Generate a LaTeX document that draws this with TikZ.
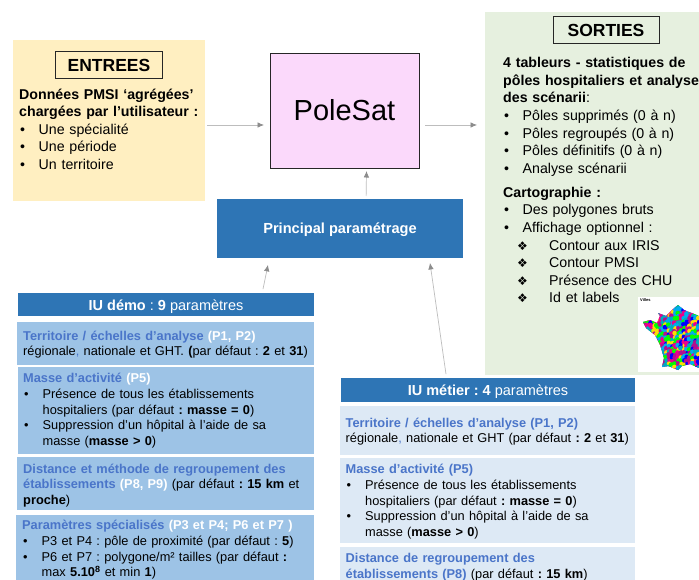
\documentclass[tikz,border=0pt]{standalone}
\usepackage{fontspec}
\setmainfont{Liberation Sans}
\newfontfamily\symfont{DejaVu Sans}
\usetikzlibrary{calc,arrows.meta}
\frenchspacing
\definecolor{inbg}{HTML}{FFEFC1}
\definecolor{outbg}{HTML}{E6F0DF}
\definecolor{polebg}{HTML}{FBD9FB}
\definecolor{headblue}{HTML}{2E75B5}
\definecolor{demobg}{HTML}{9DC3E6}
\definecolor{metbg}{HTML}{DDE9F5}
\definecolor{titleblue}{HTML}{4A75C9}
\definecolor{arrowgrey}{HTML}{BDBDBD}
\definecolor{tipgrey}{HTML}{8C8C8C}
\newcommand{\hd}[1]{{\bfseries\color{titleblue}#1}}
\newcommand{\wh}[1]{{\bfseries\color{white}#1}}
\newcommand{\lowered}[1]{\raisebox{-2pt}[10pt][3pt]{#1}}
\newlength{\bulw}
\setlength{\bulw}{19.5pt}
\newcommand{\bul}{\par\hangindent=\bulw\hangafter=1\noindent\makebox[\bulw][l]{\hspace{1pt}•}}
\newcommand{\dia}{\par\hangindent=46pt\hangafter=1\noindent\makebox[46pt][l]{\hspace{14pt}{\symfont\fontsize{12}{12}\selectfont ❖}}}
\tikzset{
  x=1pt,y=-1pt,
  panel/.style={anchor=north west,inner sep=0pt,outer sep=0pt},
  arr/.style={draw=arrowgrey,line width=0.7pt,-{Latex[length=6.5pt,width=5.5pt,color=tipgrey]}},
  tit/.style={draw=black!85,line width=1pt,font=\bfseries\fontsize{17.5}{18}\selectfont,inner sep=0pt,anchor=center},
  head/.style={fill=headblue,text=white,inner sep=0pt,outer sep=0pt,anchor=north west,font=\fontsize{14.5}{16}\selectfont,align=center},
  card/.style={anchor=north west,inner sep=0pt,align=left,font=\fontsize{12.8}{15.8}\selectfont},
  body/.style={anchor=north west,inner sep=0pt,align=left,font=\fontsize{14.2}{17.6}\selectfont},
}
\begin{document}
\begin{tikzpicture}
\useasboundingbox (0,0) rectangle (699,580);
\fill[white] (0,0) rectangle (699,580);

% ENTREES
\node[panel,fill=inbg,minimum width=192pt,minimum height=161pt] (entrees) at (13,40) {};
\node[tit,minimum width=107pt,minimum height=27pt] (entit) at (109,65.5) {\raisebox{-0.5pt}{ENTREES}};
\node[body,text width=185pt] (entxt) at (19,88.5) {\bfseries Données PMSI ‘agrégées’\newline chargées par l’utilisateur :\mdseries\bul Une spécialité\bul Une période\bul Un territoire\par};

% PoleSat
\node[panel,fill=polebg,draw=black!85,line width=0.8pt,minimum width=149pt,minimum height=115pt,font=\fontsize{29}{32}\selectfont] (pole) at (270,53) {PoleSat};

% Principal
\node[panel,fill=headblue,text=white,minimum width=246pt,minimum height=59pt,font=\bfseries\fontsize{14.6}{16}\selectfont] (princ) at (217,199) {\lowered{Principal paramétrage}};

% SORTIES
\node[panel,fill=outbg,minimum width=214pt,minimum height=363pt] (sorties) at (485,12) {};
\node[tit,minimum width=106pt,minimum height=27pt] (sotit) at (606,30.5) {SORTIES};
\node[body,text width=196pt] (sotxt) at (503,57.2) {\bfseries 4 tableurs - statistiques de\newline pôles hospitaliers et analyse\newline des scénarii\mdseries:\bul Pôles supprimés (0 à n)\bul Pôles regroupés (0 à n)\bul Pôles définitifs (0 à n)\bul Analyse scénarii\par\vspace{6.5pt}\noindent\bfseries Cartographie :\mdseries\bul Des polygones bruts\bul Affichage optionnel :\dia Contour aux IRIS\dia Contour PMSI\dia Présence des CHU\dia Id et labels\par};

% carte
\node[panel,fill=white,minimum width=61pt,minimum height=75pt] (carte) at (638,297) {};
\node[anchor=north west,inner sep=0pt,font=\bfseries\fontsize{4}{4}\selectfont] (cartit) at (640,298) {Villes};
\begin{scope}
\clip (643,322) -- (650,320) -- (657,323) -- (660,316) -- (658,313) -- (666,316) -- (672,310) -- (678,305) -- (684,310) -- (699,316) -- (699,368) -- (690,364) -- (682,366) -- (678,370) -- (668,366) -- (662,367) -- (664,358) -- (660,345) -- (655,335) -- (646,328) -- cycle;
\pgfmathsetseed{23}
\fill[magenta] (640,300) rectangle (699,372);
\foreach \cx in {0,...,19}{
  \foreach \cy in {0,...,23}{
    \pgfmathtruncatemacro{\pick}{random(1,7)}
    \ifcase\pick\or\def\cc{magenta}\or\def\cc{cyan}\or\def\cc{blue}\or\def\cc{yellow!80!orange}\or\def\cc{green}\or\def\cc{magenta!70!blue}\or\def\cc{cyan!70!green}\fi
    \pgfmathsetmacro{\jx}{rnd*2}
    \pgfmathsetmacro{\jy}{rnd*2}
    \fill[\cc] (641+\cx*3+\jx,303+\cy*3+\jy) circle[radius=2.4pt];
  }
}
\end{scope}

% IU demo
\node[head,minimum width=296pt,minimum height=23pt] (demohead) at (18,293) {\lowered{\textbf{IU démo} : \textbf{9} paramètres}};
\node[panel,fill=demobg,minimum width=297pt,minimum height=43pt] (d1) at (17,322) {};
\node[card,text width=292pt] (d1t) at (23,330.5) {\hd{Territoire / échelles d’analyse} \wh{(P1, P2)}\newline régionale{\color{titleblue},} nationale et GHT. \textbf{(}par défaut : \textbf{2} et \textbf{31})};
\node[panel,fill=demobg,minimum width=296pt,minimum height=87pt] (d2) at (18,367) {};
\node[card,text width=290pt] (d2t) at (23,373) {\hd{Masse d’activité} \wh{(P5)}\bul Présence de tous les établissements\newline hospitaliers (par défaut \textbf{: masse = 0})\bul Suppression d’un hôpital à l’aide de sa\newline masse (\textbf{masse > 0})\par};
\node[panel,fill=demobg,minimum width=297pt,minimum height=53pt] (d3) at (17,457) {};
\node[card,text width=290pt] (d3t) at (23,463.5) {\hd{Distance et méthode de regroupement des}\newline \hd{établissements} \wh{(P8, P9}\wh{)} (par défaut \textbf{: 15 km} et\newline \textbf{proche})};
\node[panel,fill=demobg,minimum width=298pt,minimum height=65pt] (d4) at (16,515) {};
\node[card,text width=292pt] (d4t) at (22,520) {\hd{Paramètres spécialisés} \wh{(P3 et P4; P6 et P7 )}\bul P3 et P4 : pôle de proximité (par défaut : \textbf{5})\bul P6 et P7 : polygone/m² tailles (par défaut \textbf{:}\newline max \textbf{5.10\textsuperscript{8}} et min \textbf{1})\par};

% IU metier
\node[head,minimum width=294pt,minimum height=24pt] (methead) at (341,378) {\lowered{\textbf{IU métier : 4} paramètres}};
\node[panel,fill=metbg,minimum width=295pt,minimum height=49pt] (m1) at (340,406) {};
\node[card,text width=290pt] (m1t) at (345.5,417.5) {\hd{Territoire / échelles d’analyse (P1, P2)}\newline régionale{\color{titleblue},} nationale et GHT (par défaut \textbf{: 2} et \textbf{31})};
\node[panel,fill=metbg,minimum width=295pt,minimum height=85pt] (m2) at (340,458) {};
\node[card,text width=285pt] (m2t) at (345.5,464) {\hd{Masse d’activité (P5)}\bul Présence de tous les établissements\newline hospitaliers (par défaut \textbf{: masse = 0})\bul Suppression d’un hôpital à l’aide de sa\newline masse (\textbf{masse > 0})\par};
\node[panel,fill=metbg,minimum width=295pt,minimum height=33pt] (m3) at (340,547) {};
\node[card,text width=285pt] (m3t) at (345.5,553) {\hd{Distance de regroupement des}\newline \hd{établissements (P8)} (par défaut \textbf{: 15 km})};

% connectors
\coordinate (polewest) at ($(pole.north west)!.626!(pole.south west)$);
\coordinate (poleeast) at ($(pole.north east)!.626!(pole.south east)$);
\draw[arr,shorten <=2pt,shorten >=6pt] (entrees.east|-polewest) -- (polewest);
\draw[arr,shorten <=6pt,shorten >=8pt] (poleeast) -- (sorties.west|-poleeast);
\draw[arr,shorten <=3pt,shorten >=3pt] ($(princ.north west)!.606!(princ.north east)$) -- ($(pole.south west)!.648!(pole.south east)$);
\draw[arr,shorten <=4pt,shorten >=7pt] ($(demohead.north west)!.825!(demohead.north east)$) -- ($(princ.south west)!.213!(princ.south east)$);
\draw[arr,shorten <=4pt,shorten >=5pt] ($(methead.north west)!.359!(methead.north east)$) -- ($(princ.south west)!.863!(princ.south east)$);
\end{tikzpicture}
\end{document}
